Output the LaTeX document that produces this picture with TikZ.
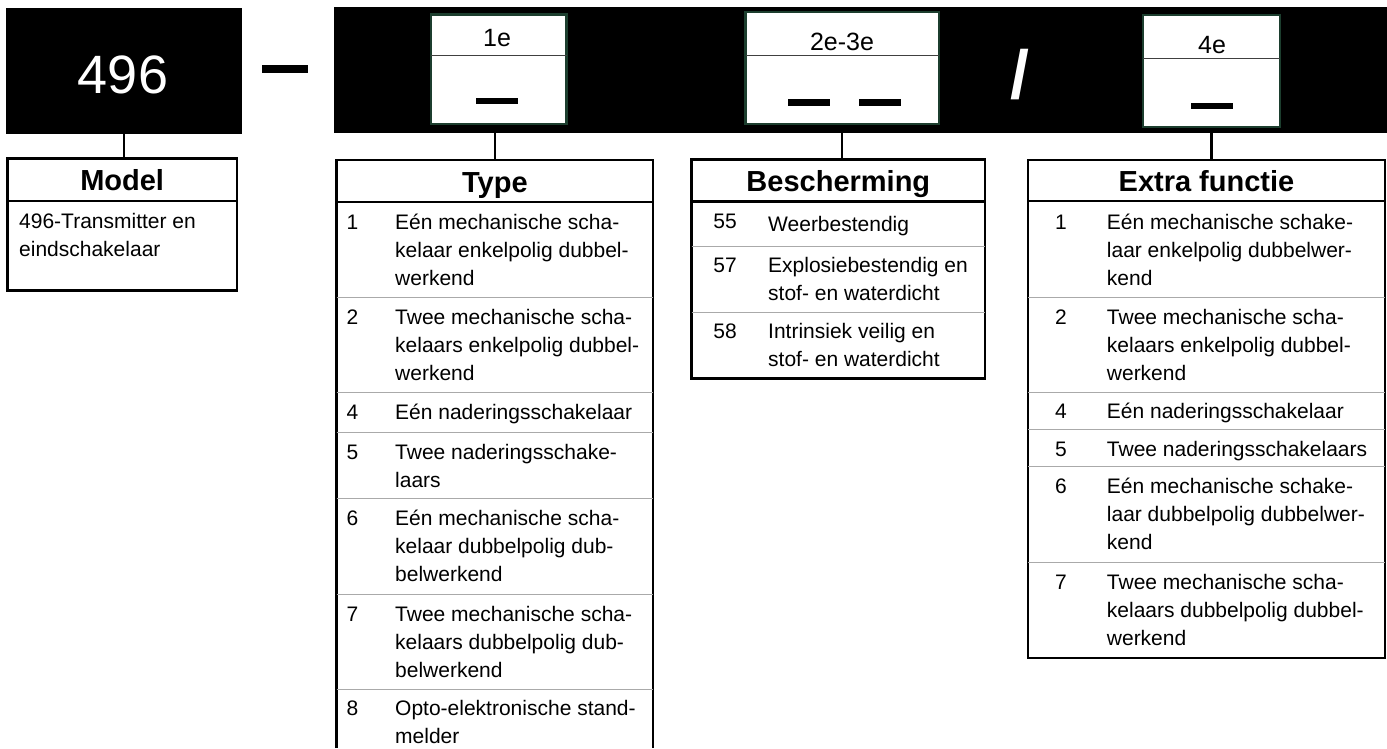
\documentclass[tikz,border=0pt]{standalone}
\usepackage{fontspec}
\setmainfont{Liberation Sans}
\definecolor{slotgreen}{RGB}{28,62,46}
\definecolor{sepgray}{RGB}{170,170,170}
\newcommand{\celltxt}[1]{\parbox[t]{300pt}{\raggedright #1}}
\begin{document}
\begin{tikzpicture}[x=1pt,y=-1pt,
  blk/.style={fill=black, draw=none, inner sep=0pt},
  slot/.style={draw=slotgreen, line width=2.7pt, fill=white, inner sep=0pt},
  slotdiv/.style={draw=black!75, line width=1pt},
  slotbar/.style={fill=black},
  slotlbl/.style={font=\fontsize{25}{28}\selectfont, anchor=base, inner sep=0pt},
  hdrbox/.style={draw=black, line width=2.7pt, inner sep=0pt,
     font=\fontsize{29}{30}\selectfont\bfseries, text height=22pt, text depth=0pt},
  tblline/.style={draw=black, line width=2.7pt},
  sepline/.style={draw=sepgray, line width=1pt},
  conn/.style={draw=black, line width=2.4pt},
  cell/.style={font=\fontsize{21}{28.4}\selectfont, anchor=base west, inner sep=0pt},
  num/.style={font=\fontsize{21}{28.4}\selectfont, anchor=base, inner sep=0pt}
]
\useasboundingbox (0,0) rectangle (1387,748);

% ---------- top black band ----------
\node[blk, minimum width=236pt, minimum height=126pt] (m496) at (124,71) {};
\node[font=\fontsize{54}{60}\selectfont, text=white, anchor=base, inner sep=0pt] (t496) at (123,93) {496};
\fill (262,65) rectangle (308,73);
\node[blk, minimum width=1053pt, minimum height=125.7pt] (bar) at (860.5,70.15) {};

% slot 1e
\node[slot, minimum width=135.7pt, minimum height=109.7pt] (e1) at (498.85,69.15) {};
\draw[slotdiv] (431,55) -- (566.7,55);
\node[slotlbl] (l1) at (497,46.7) {1e};
\fill[slotbar] (475.7,98.3) rectangle (518.3,104);

% slot 2e-3e
\node[slot, minimum width=193.5pt, minimum height=112pt] (e23) at (842.25,68) {};
\draw[slotdiv] (745.5,55) -- (939,55);
\node[slotlbl] (l23) at (842,50) {2e-3e};
\fill[slotbar] (788,99) rectangle (830,106);
\fill[slotbar] (859,99) rectangle (901,106);

% slash
\node[font=\fontsize{68}{70}\selectfont\bfseries, text=white, inner sep=0pt] (slash) at (1019.6,75) {/};

% slot 4e
\node[slot, minimum width=137pt, minimum height=112pt] (e4) at (1211.5,71) {};
\draw[slotdiv] (1143,58) -- (1280,58);
\node[slotlbl] (l4) at (1212,53) {4e};
\fill[slotbar] (1191,103) rectangle (1233,109);

% ---------- Model table ----------
\node[hdrbox, minimum width=229.7pt, minimum height=42.3pt] (modelhead) at (122.15,179.85) {Model};
\draw[tblline] (7.3,201) rectangle (237,290.7);
\node[cell] (modeltxt) at (19,228) {\celltxt{496-Transmitter en\\eindschakelaar}};

% ---------- Type table ----------
\node[hdrbox, minimum width=316.3pt, minimum height=42pt] (typehead) at (494.85,181) {Type};
\draw[tblline] (336.7,748) -- (336.7,202) (653,202) -- (653,748);
\draw[sepline] (336.7,297) -- (653,297) (336.7,392) -- (653,392) (336.7,432) -- (653,432)
  (336.7,498) -- (653,498) (336.7,594) -- (653,594) (336.7,689) -- (653,689);
\node[num] (tn1) at (352.5,229) {1};
\node[cell] (tt1) at (395,229) {\celltxt{Eén mechanische scha-\\kelaar enkelpolig dubbel-\\werkend}};
\node[num] (tn2) at (352.5,324) {2};
\node[cell] (tt2) at (395,324) {\celltxt{Twee mechanische scha-\\kelaars enkelpolig dubbel-\\werkend}};
\node[num] (tn4) at (352.5,419) {4};
\node[cell] (tt4) at (395,419) {\celltxt{Eén naderingsschakelaar}};
\node[num] (tn5) at (352.5,459) {5};
\node[cell] (tt5) at (395,459) {\celltxt{Twee naderingsschake-\\laars}};
\node[num] (tn6) at (352.5,525) {6};
\node[cell] (tt6) at (395,525) {\celltxt{Eén mechanische scha-\\kelaar dubbelpolig dub-\\belwerkend}};
\node[num] (tn7) at (352.5,621) {7};
\node[cell] (tt7) at (395,621) {\celltxt{Twee mechanische scha-\\kelaars dubbelpolig dub-\\belwerkend}};
\node[num] (tn8) at (352.5,715.5) {8};
\node[cell] (tt8) at (395,715.5) {\celltxt{Opto-elektronische stand-\\melder}};

% ---------- Bescherming table ----------
\node[hdrbox, minimum width=293.3pt, minimum height=42.4pt] (beschead) at (838.35,180.5) {Bescherming};
\draw[tblline] (691.7,201.7) rectangle (985,378.3);
\draw[sepline] (691.7,246) -- (985,246) (691.7,312) -- (985,312);
\node[num] (bn55) at (725,228) {55};
\node[cell] (bt55) at (768,231.5) {\celltxt{Weerbestendig}};
\node[num] (bn57) at (725,272) {57};
\node[cell] (bt57) at (768,272) {\celltxt{Explosiebestendig en\\stof- en waterdicht}};
\node[num] (bn58) at (725,338) {58};
\node[cell] (bt58) at (768,338) {\celltxt{Intrinsiek veilig en\\stof- en waterdicht}};

% ---------- Extra functie table ----------
\node[hdrbox, minimum width=357pt, minimum height=41pt] (extrahead) at (1206.5,180.5) {Extra functie};
\draw[tblline] (1028,201) rectangle (1385,658);
\draw[sepline] (1028,297) -- (1385,297) (1028,392) -- (1385,392) (1028,429) -- (1385,429)
  (1028,466) -- (1385,466) (1028,562) -- (1385,562);
\node[num] (xn1) at (1061,229) {1};
\node[cell] (xt1) at (1106.7,229) {\celltxt{Eén mechanische schake-\\laar enkelpolig dubbelwer-\\kend}};
\node[num] (xn2) at (1061,324) {2};
\node[cell] (xt2) at (1106.7,324) {\celltxt{Twee mechanische scha-\\kelaars enkelpolig dubbel-\\werkend}};
\node[num] (xn4) at (1061,418.5) {4};
\node[cell] (xt4) at (1106.7,418.5) {\celltxt{Eén naderingsschakelaar}};
\node[num] (xn5) at (1061,456) {5};
\node[cell] (xt5) at (1106.7,456) {\celltxt{Twee naderingsschakelaars}};
\node[num] (xn6) at (1061,493) {6};
\node[cell] (xt6) at (1106.7,493) {\celltxt{Eén mechanische schake-\\laar dubbelpolig dubbelwer-\\kend}};
\node[num] (xn7) at (1061,589) {7};
\node[cell] (xt7) at (1106.7,589) {\celltxt{Twee mechanische scha-\\kelaars dubbelpolig dubbel-\\werkend}};

% ---------- connectors ----------
\draw[conn] (m496.south) -- (m496.south |- modelhead.north);
\draw[conn] (typehead.north |- bar.south) -- (typehead.north);
\draw[conn] (e23.south |- bar.south) -- (e23.south |- beschead.north);
\draw[conn] (e4.south) -- (e4.south |- extrahead.north);
\end{tikzpicture}
\end{document}
